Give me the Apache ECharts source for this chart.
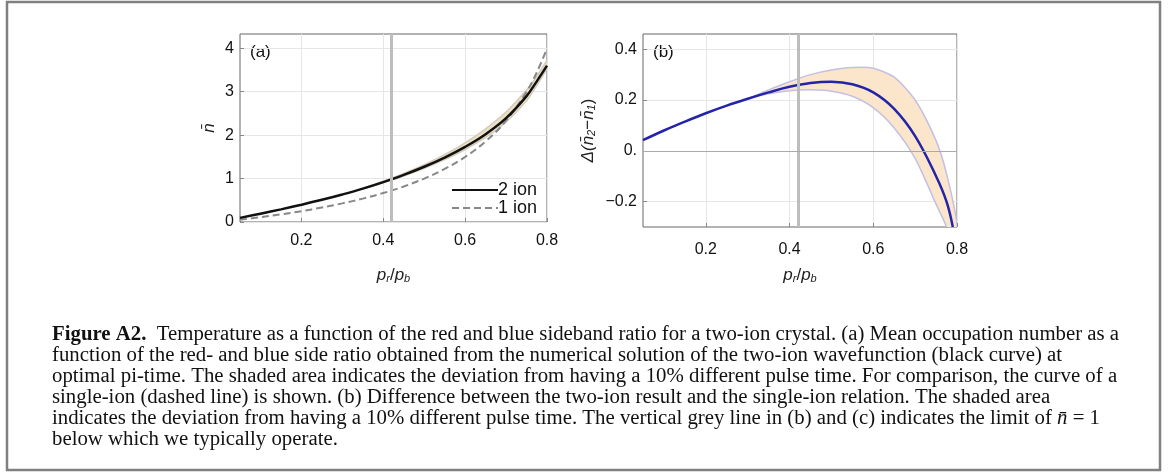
<!DOCTYPE html>
<html>
<head>
<meta charset="utf-8">
<script src="https://cdn.jsdelivr.net/npm/echarts@6/dist/echarts.min.js"></script>
<style>
html, body { margin: 0; padding: 0; background: #fff; }
#chart { width: 1174px; height: 473px; }
</style>
</head>
<body>
<div id="chart"></div>
<script>
// panel (a): mean occupation number against p_r/p_b
const ratioA = [0.05, 0.10, 0.15, 0.20, 0.25, 0.30, 0.35, 0.40, 0.45, 0.50, 0.55, 0.60, 0.65, 0.70, 0.75, 0.775, 0.80];
const nTwoIon = [0.095, 0.191, 0.291, 0.398, 0.511, 0.634, 0.768, 0.919, 1.085, 1.272, 1.484, 1.730, 2.022, 2.391, 2.900, 3.240, 3.600];
const nOneIon = [0.053, 0.111, 0.176, 0.250, 0.333, 0.429, 0.538, 0.667, 0.818, 1.000, 1.222, 1.500, 1.857, 2.333, 3.000, 3.444, 4.000];
// shaded area of (a), 10% different pulse time
const bandRatioA = [0.35, 0.40, 0.45, 0.50, 0.55, 0.60, 0.65, 0.70, 0.75, 0.775, 0.80];
const bandHiA = [0.778, 0.939, 1.118, 1.318, 1.550, 1.825, 2.147, 2.533, 3.040, 3.354, 3.710];
const bandLoA = [0.763, 0.904, 1.058, 1.235, 1.437, 1.670, 1.947, 2.303, 2.790, 3.144, 3.550];

// panel (b): difference two-ion minus single-ion
const ratioB = [0.05, 0.10, 0.15, 0.20, 0.25, 0.30, 0.35, 0.40, 0.45, 0.50, 0.55, 0.60, 0.65, 0.70, 0.75, 0.775, 0.79];
const deltaN = [0.042, 0.080, 0.115, 0.148, 0.178, 0.205, 0.230, 0.252, 0.267, 0.272, 0.262, 0.230, 0.165, 0.058, -0.100, -0.200, -0.300];
const bandRatioB = [0.30, 0.35, 0.40, 0.45, 0.50, 0.55, 0.60, 0.65, 0.70, 0.75, 0.775, 0.80];
const bandHiB = [0.205, 0.240, 0.272, 0.300, 0.318, 0.328, 0.325, 0.290, 0.200, 0.040, -0.090, -0.290];
const bandLoB = [0.205, 0.225, 0.237, 0.240, 0.235, 0.215, 0.170, 0.090, -0.030, -0.210, -0.300, -0.450];

// vertical grey line, limit of n = 1
const limitRatio = 0.42;

const ticksX = [0.2, 0.4, 0.6, 0.8];
const ticksYA = [0, 1, 2, 3, 4];
const ticksYB = [-0.2, 0, 0.2, 0.4];

const captionLines = [
    '{b|Figure A2.}  Temperature as a function of the red and blue sideband ratio for a two-ion crystal. (a) Mean occupation number as a',
    'function of the red- and blue side ratio obtained from the numerical solution of the two-ion wavefunction (black curve) at',
    'optimal pi-time. The shaded area indicates the deviation from having a 10% different pulse time. For comparison, the curve of a',
    'single-ion (dashed line) is shown. (b) Difference between the two-ion result and the single-ion relation. The shaded area',
    'indicates the deviation from having a 10% different pulse time. The vertical grey line in (b) and (c) indicates the limit of {m|n\u0304} = 1',
    'below which we typically operate.'
];

const sans = 'Liberation Sans';
const serif = 'Liberation Serif';
const capSize = 20.8;

function pairs(xs, ys) {
    return xs.map((x, i) => [x, ys[i]]);
}

// band polygon drawn through the axis scales
function bandRender(xs, hi, lo, fill, stroke) {
    return function (params, api) {
        const top = xs.map((x, i) => api.coord([x, hi[i]]));
        const bottom = xs.map((x, i) => api.coord([x, lo[i]])).reverse();
        return {
            type: 'polygon',
            shape: { points: top.concat(bottom), smooth: 0.25 },
            style: { fill: fill, stroke: stroke, lineWidth: 1.5 }
        };
    };
}

const nameRich = {
    i: { fontFamily: sans, fontStyle: 'italic', fontSize: 17, color: '#222', lineHeight: 20, verticalAlign: 'bottom' },
    s: { fontFamily: sans, fontStyle: 'italic', fontSize: 11, color: '#222', lineHeight: 8, verticalAlign: 'bottom' },
    t: { fontFamily: sans, fontSize: 17, color: '#222', lineHeight: 20, verticalAlign: 'bottom' }
};

function xAxisFor(gridIndex, labelMargin, nameGap) {
    return {
        type: 'value', gridIndex: gridIndex, min: 0.05, max: 0.8,
        name: '{i|p}{s|r}{t|/}{i|p}{s|b}', nameLocation: 'middle', nameGap: nameGap,
        nameTextStyle: { rich: nameRich },
        axisLine: { show: false, onZero: false },
        axisTick: { show: true, inside: true, length: 4, lineStyle: { color: '#888' }, customValues: ticksX },
        axisLabel: { customValues: ticksX, margin: labelMargin, fontFamily: sans, fontSize: 16, color: '#111', formatter: v => v.toFixed(1) },
        splitLine: { show: true, lineStyle: { color: '#e6e6e6', width: 1 } }
    };
}

const chart = echarts.init(document.getElementById('chart'));

chart.setOption({
    animation: false,
    backgroundColor: '#fff',
    grid: [
        { left: 240, top: 34, width: 307, height: 188, show: true, borderColor: '#666', borderWidth: 1 },
        { left: 643, top: 34, width: 314, height: 193, show: true, borderColor: '#666', borderWidth: 1 }
    ],
    xAxis: [xAxisFor(0, 11, 42), xAxisFor(1, 15, 37)],
    yAxis: [
        {
            type: 'value', gridIndex: 0, min: 0, max: 4.33,
            name: '{i|n\u0304}', nameLocation: 'middle', nameGap: 22,
            nameTextStyle: { rich: nameRich },
            axisLine: { show: false, onZero: false },
            axisTick: { show: true, inside: true, length: 4, lineStyle: { color: '#888' }, customValues: ticksYA },
            axisLabel: { customValues: ticksYA, margin: 6, fontFamily: sans, fontSize: 16, color: '#111' },
            splitLine: { show: true, lineStyle: { color: '#e6e6e6', width: 1 } }
        },
        {
            type: 'value', gridIndex: 1, min: -0.3, max: 0.46,
            name: '{i|\u0394(}{i|n\u0304}{s|2}{t|\u2212}{i|n\u0304}{s|1}{t|)}', nameLocation: 'middle', nameGap: 46,
            nameTextStyle: { rich: nameRich },
            axisLine: { show: false, onZero: false },
            axisTick: { show: true, inside: true, length: 4, lineStyle: { color: '#888' }, customValues: ticksYB },
            axisLabel: {
                customValues: ticksYB, margin: 6, fontFamily: sans, fontSize: 16, color: '#111',
                formatter: v => Math.abs(v) < 1e-9 ? '0.' : (v < 0 ? '\u2212' + Math.abs(v).toFixed(1) : v.toFixed(1))
            },
            splitLine: { show: true, lineStyle: { color: '#e6e6e6', width: 1 } }
        }
    ],
    legend: {
        data: ['2 ion', '1 ion'],
        orient: 'vertical',
        left: 446, top: 176,
        itemWidth: 46, itemHeight: 14, itemGap: 0,
        itemStyle: { opacity: 0 },
        textStyle: { fontFamily: sans, fontSize: 18, color: '#111', padding: [0, 0, 0, -5] }
    },
    series: [
        {
            name: 'bandA', type: 'custom', xAxisIndex: 0, yAxisIndex: 0, clip: true, z: 1, silent: true,
            data: [[0.5, 1]],
            renderItem: bandRender(bandRatioA, bandHiA, bandLoA, '#ece0c6', '#d4cbb8')
        },
        {
            name: '1 ion', type: 'line', xAxisIndex: 0, yAxisIndex: 0, z: 3,
            data: pairs(ratioA, nOneIon), smooth: 0.4, symbol: 'none',
            itemStyle: { color: '#888' },
            lineStyle: { color: '#888', width: 2, type: [7, 4] },
            markLine: {
                silent: true, symbol: 'none', label: { show: false },
                lineStyle: { color: '#bdbdbd', width: 3, type: 'solid' },
                data: [{ xAxis: limitRatio }]
            }
        },
        {
            name: '2 ion', type: 'line', xAxisIndex: 0, yAxisIndex: 0, z: 4,
            data: pairs(ratioA, nTwoIon), smooth: 0.4, symbol: 'none',
            itemStyle: { color: '#111' },
            lineStyle: { color: '#111', width: 2.5 }
        },
        {
            name: 'bandB', type: 'custom', xAxisIndex: 1, yAxisIndex: 1, clip: true, z: 1, silent: true,
            data: [[0.5, 0.2]],
            renderItem: bandRender(bandRatioB, bandHiB, bandLoB, '#fbe6cb', '#c3c0e4'),
            markLine: {
                silent: true, symbol: 'none', label: { show: false },
                data: [
                    { xAxis: limitRatio, lineStyle: { color: '#bdbdbd', width: 3, type: 'solid' } },
                    { yAxis: 0, lineStyle: { color: '#aaa', width: 1, type: 'solid' } }
                ]
            }
        },
        {
            name: 'delta', type: 'line', xAxisIndex: 1, yAxisIndex: 1, z: 4,
            data: pairs(ratioB, deltaN), smooth: 0.4, symbol: 'none',
            itemStyle: { color: '#2424a8' },
            lineStyle: { color: '#2424a8', width: 2.5 }
        }
    ],
    graphic: [
        { type: 'text', left: 250, top: 44, style: { text: '(a)', font: '17px ' + sans, fill: '#111' } },
        { type: 'text', left: 653, top: 44, style: { text: '(b)', font: '17px ' + sans, fill: '#111' } },
        {
            type: 'rect', shape: { x: 7, y: 2, width: 1153, height: 468 },
            style: { fill: 'none', stroke: '#808080', lineWidth: 2.5 }, silent: true
        }
    ].concat(captionLines.map((line, i) => ({
        type: 'text', x: 52, y: 335 + i * 21,
        style: {
            text: line, fill: '#111', verticalAlign: 'middle',
            font: capSize + 'px ' + serif,
            rich: {
                b: { fontFamily: serif, fontSize: capSize, fontWeight: 'bold', fill: '#111' },
                m: { fontFamily: serif, fontSize: capSize, fontStyle: 'italic', fill: '#111' }
            }
        }
    })))
});
</script>
</body>
</html>
